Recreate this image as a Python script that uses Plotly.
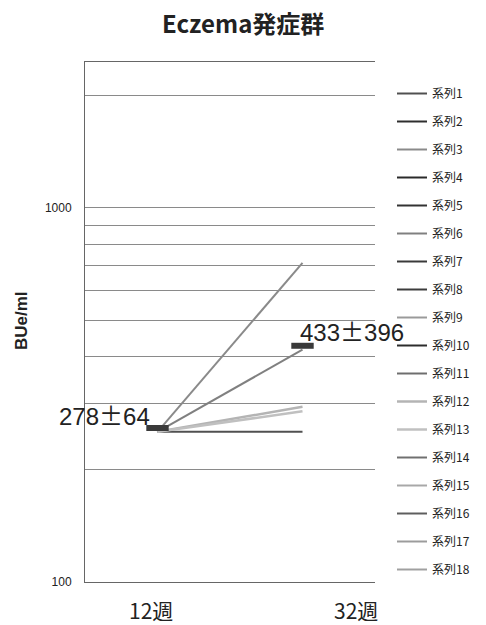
import plotly.graph_objects as go

categories = ["12週", "32週"]
series_names = [f"系列{i}" for i in range(1, 19)]
# values per series (None = no data)
series_values = {
    "系列1": [252, 252],
    "系列2": [None, None],
    "系列3": [252, 713],
    "系列4": [None, None],
    "系列5": [None, None],
    "系列6": [252, 418],
    "系列7": [None, None],
    "系列8": [None, None],
    "系列9": [None, None],
    "系列10": [None, None],
    "系列11": [None, None],
    "系列12": [252, 294],
    "系列13": [252, 286],
    "系列14": [None, None],
    "系列15": [None, None],
    "系列16": [None, None],
    "系列17": [None, None],
    "系列18": [None, None],
}
series_colors = ["#4a4a4a", "#2e2e2e", "#5a5a5a", "#2a2a2a", "#333333", "#6a6a6a",
                 "#3a3a3a", "#3c3c3c", "#9a9a9a", "#2c2c2c", "#6e6e6e", "#7a7a7a",
                 "#666666", "#707070", "#a8a8a8", "#5e5e5e", "#9c9c9c", "#a0a0a0"]
line_colors = {"系列1": "#505050", "系列3": "#8a8a8a", "系列6": "#808080",
               "系列12": "#b4b4b4", "系列13": "#c0c0c0"}
mean_values = [258, 428]
mean_labels = ["278±64", "433±396"]
grid_vals = [100, 200, 300, 400, 500, 600, 700, 800, 900, 1000, 2000]
grid_text = ["100", "", "", "", "", "", "", "", "", "1000", ""]

PL, PR, PT, PB = 85, 375, 62, 582
PW, PH = PR - PL, PB - PT


def px(x):
    return (x - PL) / PW


def py(y):
    return (PB - y) / PH


def pm_label(s):
    a, b = s.split("±")
    return a + "<span style='font-family:Noto Sans CJK JP'>±</span>" + b


fig = go.Figure()
for name, col in zip(series_names, series_colors):
    fig.add_trace(go.Scatter(
        x=categories, y=series_values[name], mode="lines", name=name,
        line=dict(color=line_colors.get(name, col), width=2.5 if name in ("系列12", "系列13") else 2),
        legendgroup=name, showlegend=True))

fig.add_trace(go.Scatter(
    x=categories, y=mean_values, mode="markers", showlegend=False,
    marker=dict(symbol="line-ew-open", size=16, color="#3a3a3a",
                line=dict(color="#3a3a3a", width=6))))

ann_font = "Noto Sans CJK JP"
fig.update_layout(
    width=486, height=625,
    margin=dict(l=PL, r=486 - PR, t=PT, b=625 - PB, autoexpand=False),
    paper_bgcolor="white", plot_bgcolor="white",
    font=dict(family="Noto Sans CJK JP, Liberation Sans, sans-serif", color="#222"),
    showlegend=True,
    legend=dict(x=px(392), y=py(79), xanchor="left", yanchor="top",
                font=dict(size=12, color="#222"), tracegroupgap=9, itemwidth=30,
                bgcolor="rgba(0,0,0,0)"),
    xaxis=dict(type="category", range=[-0.5, 1.5], showticklabels=False, showgrid=False,
               showline=True, linecolor="#666", linewidth=1, mirror=True, ticks=""),
    yaxis=dict(type="log", range=[2, 3.39], tickvals=grid_vals, ticktext=grid_text,
               showgrid=True, gridcolor="#8a8a8a", gridwidth=1,
               showline=True, linecolor="#666", linewidth=1, ticks="",
               ticklabelstandoff=10,
               tickfont=dict(size=12, family="Liberation Sans, sans-serif", color="#222"),
               zeroline=False),
    annotations=[
        dict(text="<b>Eczema発症群</b>", x=px(243), y=py(22), xanchor="center", yanchor="middle",
             font=dict(size=24, family=ann_font)),
        dict(text="<b>BUe/ml</b>", x=px(21), y=py(321), xanchor="center", yanchor="middle",
             textangle=-90, font=dict(size=17, family="Liberation Sans")),
        dict(text=categories[0], x=px(151), y=py(610), xanchor="center", yanchor="middle",
             font=dict(size=21, family=ann_font)),
        dict(text=categories[1], x=px(356), y=py(610), xanchor="center", yanchor="middle",
             font=dict(size=21, family=ann_font)),
        dict(text=pm_label(mean_labels[0]), x=px(152), y=py(414), xanchor="right", yanchor="middle",
             font=dict(size=24, family="Liberation Sans")),
        dict(text=pm_label(mean_labels[1]), x=px(298), y=py(331), xanchor="left", yanchor="middle",
             font=dict(size=24, family="Liberation Sans")),
    ],
)
for a in fig.layout.annotations:
    a.xref = "paper"
    a.yref = "paper"
    a.showarrow = False
fig.write_html("out.html", config={"displayModeBar": False},
               post_script="document.body.style.margin='0';document.body.style.overflow='hidden';")
